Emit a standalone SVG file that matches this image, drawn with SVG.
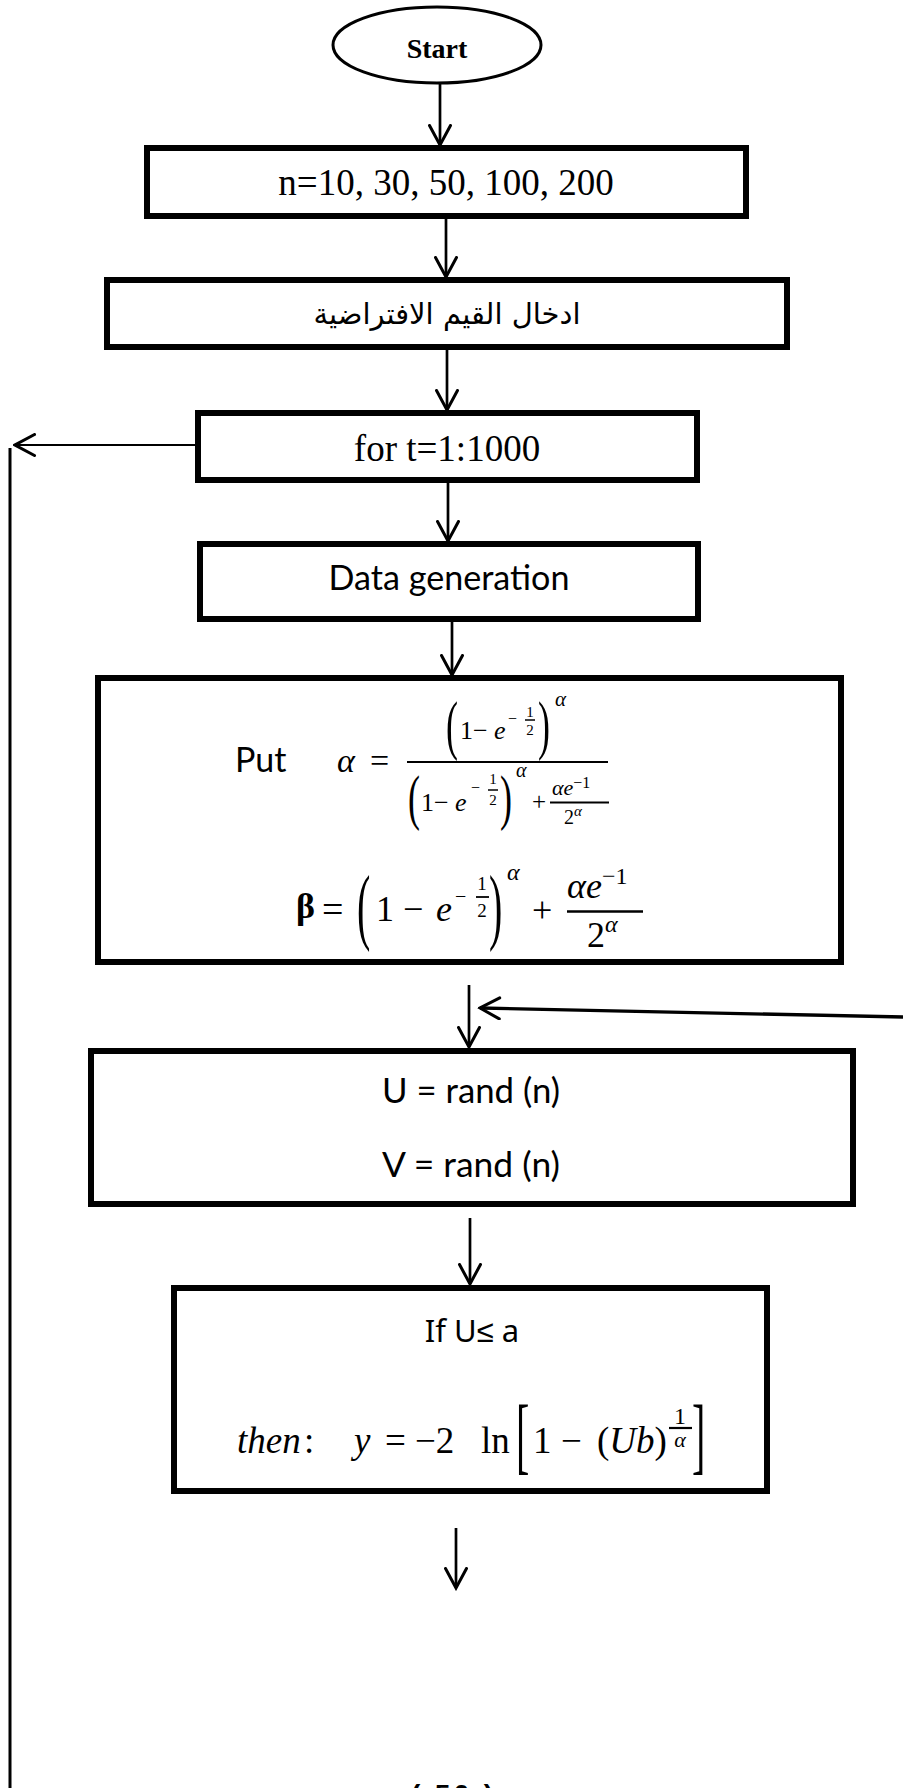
<svg xmlns="http://www.w3.org/2000/svg" width="903" height="1788" viewBox="0 0 903 1788">
  <defs>
    <marker id="arrow" viewBox="0 0 24 24" refX="21.5" refY="12" markerWidth="24" markerHeight="24" orient="auto" markerUnits="userSpaceOnUse">
      <path d="M2,1.5 L21.5,12 L2,22.5" fill="none" stroke="#000" stroke-width="3" stroke-linecap="round"/>
    </marker>
  </defs>
  <style>
    .box { fill: #fff; stroke: #000; stroke-width: 6; }
    .term { fill: #fff; stroke: #000; stroke-width: 3; }
    .conn { fill: none; stroke: #000; stroke-width: 2.7; }
    .arr { marker-end: url(#arrow); }
    .serif { font-family: "Liberation Serif", "Times New Roman", serif; fill: #000; }
    .sans { font-family: "Lato", "Liberation Sans", sans-serif; fill: #000; }
    .ar { font-family: "DejaVu Sans", "Noto Sans", sans-serif; fill: #000; }
    .it { font-style: italic; }
    .mid { text-anchor: middle; }
    .bar { stroke: #000; stroke-width: 2.2; }
  </style>

  <rect width="903" height="1788" fill="#fff"/>

  <!-- connectors -->
  <g id="connectors">
    <line class="conn arr" x1="440" y1="84" x2="440" y2="145"/>
    <line class="conn arr" x1="446" y1="219" x2="446" y2="277"/>
    <line class="conn arr" x1="447" y1="350" x2="447" y2="410"/>
    <line class="conn arr" x1="448" y1="483" x2="448" y2="541"/>
    <line class="conn arr" x1="452" y1="622" x2="452" y2="675"/>
    <!-- loop back from the counter box -->
    <line class="conn arr" x1="195" y1="445" x2="15" y2="445" style="stroke-width:2.2"/>
    <line class="conn" x1="10" y1="448" x2="10" y2="1788" style="stroke-width:3"/>
    <!-- entry into the sampling box -->
    <line class="conn arr" x1="469" y1="985" x2="469" y2="1047"/>
    <line class="conn arr" x1="903" y1="1017" x2="480" y2="1008" style="stroke-width:3.3"/>
    <line class="conn arr" x1="470" y1="1218" x2="470" y2="1284"/>
    <line class="conn arr" x1="456" y1="1528" x2="456" y2="1588"/>
  </g>

  <!-- start terminal -->
  <g id="start">
    <ellipse class="term" cx="437" cy="45" rx="104" ry="38"/>
    <text class="serif mid" x="437" y="58" font-size="28" font-weight="bold">Start</text>
  </g>

  <!-- sample sizes -->
  <g id="sizes">
    <rect class="box" x="147" y="148" width="599" height="68"/>
    <text class="serif mid" x="446" y="195" font-size="37">n=10, 30, 50, 100, 200</text>
  </g>

  <!-- default values input -->
  <g id="defaults">
    <rect class="box" x="107" y="280" width="680" height="67"/>
    <text class="ar mid" x="447" y="324" font-size="29" direction="rtl">ادخال القيم الافتراضية</text>
  </g>

  <!-- replication loop -->
  <g id="loop">
    <rect class="box" x="198" y="413" width="499" height="67"/>
    <text class="serif mid" x="447" y="461" font-size="37">for t=1:1000</text>
  </g>

  <!-- data generation -->
  <g id="generation">
    <rect class="box" x="200" y="544" width="498" height="75"/>
    <text class="sans mid" x="449" y="590" font-size="35" textLength="241" lengthAdjust="spacingAndGlyphs">Data generation</text>
  </g>

  <!-- constants alpha and beta -->
  <g id="constants">
    <rect class="box" x="98" y="678" width="743" height="284"/>
    <text class="sans" x="235" y="772" font-size="34">Put</text>
    <text class="serif it" x="337" y="772" font-size="34">α</text>
    <text class="serif" x="370" y="772" font-size="34">=</text>
    <line class="bar" x1="407" y1="762" x2="608" y2="762"/>
    <!-- numerator -->
    <text class="serif" transform="translate(446,747) scale(1,1.8)" font-size="36">(</text>
    <text class="serif" x="460" y="739" font-size="26">1<tspan x="473">−</tspan><tspan class="it" x="494">e</tspan></text>
    <text class="serif" x="508" y="724" font-size="16">−</text>
    <text class="serif mid" x="530" y="717" font-size="15">1</text>
    <line class="bar" x1="525" y1="720" x2="535" y2="720" style="stroke-width:1.5"/>
    <text class="serif mid" x="530" y="735" font-size="15">2</text>
    <text class="serif" transform="translate(538,747) scale(1,1.8)" font-size="36">)</text>
    <text class="serif it" x="555" y="706" font-size="21">α</text>
    <!-- denominator -->
    <text class="serif" transform="translate(408,818) scale(1,1.7)" font-size="36">(</text>
    <text class="serif" x="421" y="811" font-size="26">1<tspan x="434">−</tspan><tspan class="it" x="455">e</tspan></text>
    <text class="serif" x="471" y="793" font-size="16">−</text>
    <text class="serif mid" x="493" y="784" font-size="15">1</text>
    <line class="bar" x1="488" y1="790" x2="498" y2="790" style="stroke-width:1.5"/>
    <text class="serif mid" x="493" y="805" font-size="15">2</text>
    <text class="serif" transform="translate(500,818) scale(1,1.7)" font-size="36">)</text>
    <text class="serif it" x="516" y="777" font-size="20">α</text>
    <text class="serif" x="532" y="810" font-size="25">+</text>
    <text class="serif" x="552" y="795" font-size="22"><tspan class="it">αe</tspan><tspan font-size="16" dy="-7">−1</tspan></text>
    <line class="bar" x1="550" y1="802.5" x2="609" y2="802.5" style="stroke-width:1.8"/>
    <text class="serif" x="564" y="824" font-size="20">2<tspan class="it" font-size="15" dy="-8">α</tspan></text>
    <!-- beta -->
    <text class="serif" x="296" y="918" font-size="36" font-weight="bold">β</text>
    <text class="serif" x="322" y="922" font-size="38">=</text>
    <text class="serif" transform="translate(357,934) scale(1,2.1)" font-size="40">(</text>
    <text class="serif" x="376" y="921" font-size="36">1</text>
    <text class="serif" x="403" y="921" font-size="36">−</text>
    <text class="serif it" x="436" y="921" font-size="36">e</text>
    <text class="serif" x="455" y="903" font-size="20">−</text>
    <text class="serif mid" x="482" y="890" font-size="19">1</text>
    <line class="bar" x1="476" y1="897" x2="489" y2="897" style="stroke-width:1.8"/>
    <text class="serif mid" x="482" y="917" font-size="19">2</text>
    <text class="serif" transform="translate(489,934) scale(1,2.1)" font-size="40">)</text>
    <text class="serif it" x="507" y="880" font-size="24">α</text>
    <text class="serif" x="532" y="922" font-size="36">+</text>
    <text class="serif" x="567" y="898" font-size="36"><tspan class="it">αe</tspan><tspan font-size="24" dy="-14">−1</tspan></text>
    <line class="bar" x1="567" y1="911.5" x2="643" y2="911.5" style="stroke-width:2.4"/>
    <text class="serif" x="587" y="947" font-size="36">2<tspan class="it" font-size="24" dy="-15">α</tspan></text>
  </g>

  <!-- uniform draws -->
  <g id="uniforms">
    <rect class="box" x="91" y="1051" width="762" height="153"/>
    <text class="sans mid" x="471" y="1103" font-size="35" textLength="178" lengthAdjust="spacingAndGlyphs">U = rand (n)</text>
    <text class="sans mid" x="471" y="1177" font-size="35" textLength="178" lengthAdjust="spacingAndGlyphs">V = rand (n)</text>
  </g>

  <!-- acceptance condition -->
  <g id="condition">
    <rect class="box" x="174" y="1288" width="593" height="203"/>
    <text x="472" y="1342" font-family="Noto Sans, Liberation Sans, sans-serif" font-size="31" class="mid">If U≤ a</text>
    <text class="serif it" x="237" y="1453" font-size="37">then</text>
    <text class="serif" x="304" y="1453" font-size="37">:</text>
    <text class="serif it" x="354" y="1453" font-size="37">y</text>
    <text class="serif" x="385" y="1453" font-size="37">=</text>
    <text class="serif" x="415" y="1453" font-size="37">−2</text>
    <text class="serif" x="481" y="1453" font-size="37">ln</text>
    <text class="serif" transform="translate(516,1464) scale(1,2.1)" font-size="40">[</text>
    <text class="serif" x="533" y="1453" font-size="37">1</text>
    <text class="serif" x="561" y="1453" font-size="37">−</text>
    <text class="serif" x="597" y="1453" font-size="37">(<tspan class="it">Ub</tspan>)</text>
    <text class="serif mid" x="680" y="1424" font-size="24">1</text>
    <line class="bar" x1="669" y1="1428" x2="692" y2="1428"/>
    <text class="serif it mid" x="680" y="1447" font-size="22">α</text>
    <text class="serif" transform="translate(692,1464) scale(1,2.1)" font-size="40">]</text>
  </g>

  <!-- page number -->
  <text class="mid" x="452" y="1804" font-family="Liberation Sans, sans-serif" font-weight="bold" font-size="28" textLength="82" lengthAdjust="spacing">( 50 )</text>
</svg>
